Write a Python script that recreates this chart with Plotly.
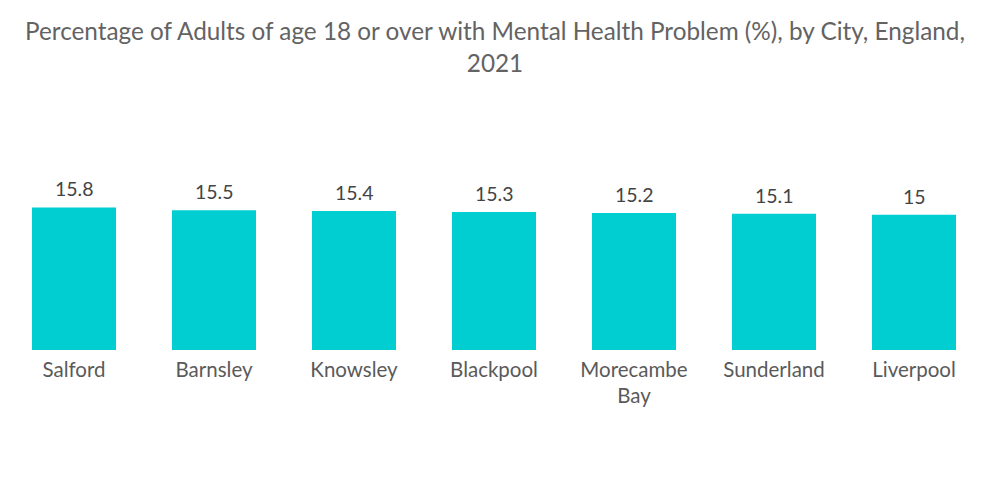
import plotly.graph_objects as go

cities = ["Salford", "Barnsley", "Knowsley", "Blackpool", "Morecambe<br>Bay", "Sunderland", "Liverpool"]
values = [15.8, 15.5, 15.4, 15.3, 15.2, 15.1, 15]

fig = go.Figure(go.Bar(
    x=cities, y=values,
    marker=dict(color="#00CED1", line=dict(width=0)),
    width=0.6,
    cliponaxis=False,
    hoverinfo="skip",
))

for c, v in zip(cities, values):
    fig.add_annotation(
        x=c, y=v, text=f"{v:g}", showarrow=False,
        yanchor="bottom", yshift=5,
        font=dict(family="Lato, Open Sans, sans-serif", size=19.5, color="#444444"),
    )

fig.update_layout(
    width=1000, height=504,
    margin=dict(l=4, r=16, t=120, b=154, autoexpand=False),
    paper_bgcolor="white", plot_bgcolor="white",
    title=dict(
        text="Percentage of Adults of age 18 or over with Mental Health Problem (%), by City, England,<br>2021",
        x=0.495, xanchor="center", xref="container",
        y=1 - 40 / 504, yanchor="top", yref="container",
        font=dict(family="Lato, Open Sans, sans-serif", size=24.3, color="#636363"),
    ),
    xaxis=dict(showline=False, showgrid=False, ticks="", automargin=False,
               ticklabelstandoff=5,
               tickfont=dict(family="Lato, Open Sans, sans-serif", size=20.5, color="#5a5a5a")),
    yaxis=dict(visible=False, range=[0, 25.5], automargin=False),
    showlegend=False,
)

fig.write_html("out.html", config={"displayModeBar": False},
               post_script="document.body.style.margin='0';document.body.style.padding='0';")
